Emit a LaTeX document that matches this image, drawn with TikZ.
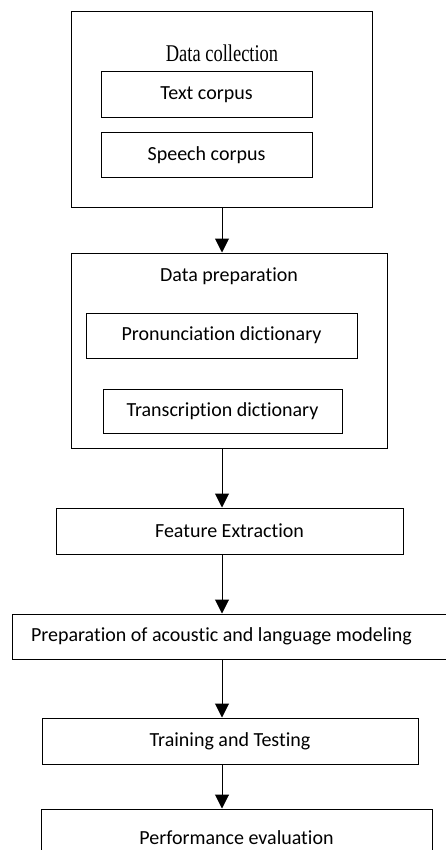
\documentclass[tikz,border=0pt]{standalone}
\usepackage{fontspec}
\setmainfont[Ligatures={NoCommon}]{Carlito}
\newfontfamily\titlefont{Liberation Serif}
\usetikzlibrary{arrows.meta}

\begin{document}
\begin{tikzpicture}[x=1pt, y=-1pt,
    box/.style={draw, line width=1pt, minimum height=46pt, inner sep=0pt,
                font=\fontsize{20}{24}\selectfont},
    frame/.style={draw, line width=1pt, inner sep=0pt},
    flow/.style={line width=1pt, -{Triangle[length=14pt, width=14pt]}}]
                \useasboundingbox (0,0) rectangle (445,850);
                \def\ax{222};

                % Draw the data collection block with its two corpora
                \node[frame, minimum width=301pt, minimum height=196pt] (collect) at (221.5,110) {};
                \node[font=\titlefont\fontsize{24}{26}\selectfont] (collecttitle) at (222,53)
                    {\scalebox{0.77}[1]{Data collection}};
                \node[box, minimum width=211pt] (text) at (206.5,95) {Text corpus};
                \node[box, minimum width=211pt, minimum height=45pt] (speech) at (206.5,155.5) {Speech corpus};

                % Draw the data preparation block with the dictionaries
                \node[frame, minimum width=316pt, minimum height=195pt] (prep) at (229,350.5) {};
                \node[font=\fontsize{20}{24}\selectfont] (preptitle) at (229,276) {Data preparation};
                \node[box, minimum width=271pt, minimum height=45pt] (pron) at (221.5,335.5) {Pronunciation dictionary};
                \node[box, minimum width=239pt, minimum height=44pt] (trans) at (222.5,411) {Transcription dictionary};

                % Draw the remaining steps
                \node[box, minimum width=347pt] (feat) at (229.5,531) {Feature Extraction};
                \node[box, minimum width=443pt, minimum height=45pt] (model) at (233.5,636.5)
                    {\hspace*{-24pt}Preparation of acoustic and language modeling};
                \node[box, minimum width=376pt] (train) at (230,741) {Training and Testing};
                \node[box, minimum width=391pt, minimum height=58pt] (perf) at (236.5,838) {Performance evaluation};

                % Draw the arrows between the steps
                \draw[flow] (collect.south -| \ax,0) -- (prep.north -| \ax,0);
                \draw[flow] (prep.south -| \ax,0) -- (feat.north -| \ax,0);
                \draw[flow] (feat.south -| \ax,0) -- (model.north -| \ax,0);
                \draw[flow] (model.south -| \ax,0) -- (train.north -| \ax,0);
                \draw[flow] (train.south -| \ax,0) -- (perf.north -| \ax,0);

            \end{tikzpicture}
\end{document}
